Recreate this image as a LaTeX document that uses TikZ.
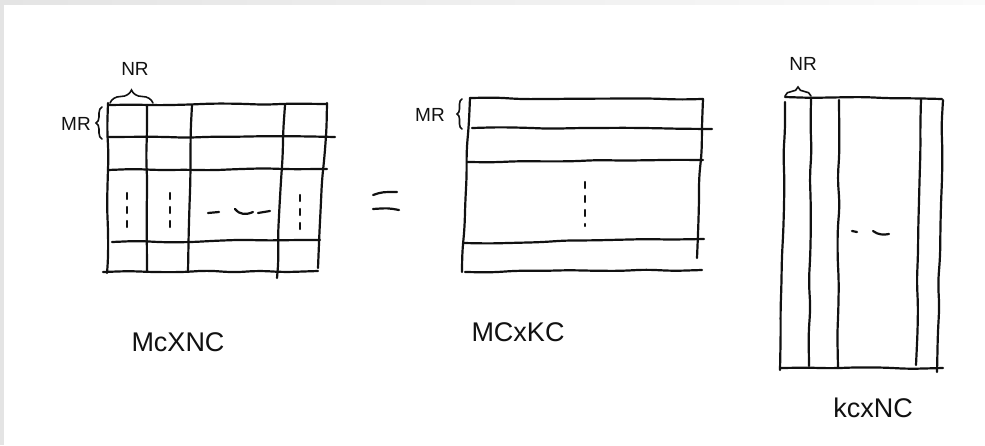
\documentclass[tikz,border=0pt]{standalone}
\usepackage{fontspec}
\setmainfont{Liberation Sans}
\usepackage{xcolor}
\definecolor{cInk}{HTML}{111111}
\definecolor{cEdge}{HTML}{E4E4E4}
\definecolor{cEdgeLight}{HTML}{FAFAFA}
\usepackage{tikz}
\usetikzlibrary{decorations.pathmorphing,decorations.pathreplacing}
\tikzset{
  pen/.style={draw=cInk,line width=2.2pt,line cap=round,rounded corners=9pt,
    decorate,decoration={random steps,segment length=26pt,amplitude=1pt}},
  pen-plain/.style={draw=cInk,line width=2.2pt,line cap=round},
  pen-dots/.style={pen-plain,dash pattern=on 6pt off 8pt},
  pen-brace/.style={draw=cInk,line width=1.6pt,line cap=round,decorate,
    decoration={brace,amplitude=#1}},
  pen-brace/.default=8pt,
  hand-label/.style={font=\fontsize{27}{30}\selectfont,text=cInk,inner sep=0pt},
  brace-label/.style={font=\fontsize{19}{21}\selectfont,text=cInk,inner sep=0pt},
}
\pgfmathsetseed{7}

\begin{document}
\begin{tikzpicture}[x=1pt,y=-1pt]
  \useasboundingbox (0,0) rectangle (985,445);
  \fill[white] (0,0) rectangle (985,445);
  % screen edge
  \shade[left color=cEdge,right color=cEdgeLight] (0,0) rectangle (985,4);
  \fill[cEdge] (0,0) rectangle (4,445);

  % C = MC x NC
  \draw[pen] (108,105) -- (327,104);
  \draw[pen] (108,137) -- (335,137);
  \draw[pen] (108,170) -- (327,169);
  \draw[pen] (112,242) -- (320,240);
  \draw[pen] (103,272) -- (318,271);
  \draw[pen] (108,103) -- (107,273);
  \draw[pen] (147,105) -- (147,272);
  \draw[pen] (192,105) -- (188,272);
  \draw[pen] (285,105) -- (277,278);
  \draw[pen] (327,103) -- (318,268);
  \draw[pen-dots] (127,193) -- (127,230);
  \draw[pen-dots] (170,193) -- (170,230);
  \draw[pen-dots] (300,195) -- (300,230);
  \draw[pen-plain] (208,213) -- (219,212)
    (235,209) .. controls (240,215) and (246,215) .. (253,212)
    (258,213) -- (270,211);
  \draw[pen-brace=13pt] (110,103) -- (153,103);
  \draw[pen-brace=6pt] (102,139) -- (102,107);
  \node[brace-label] (nr-c) at (135,69) {NR};
  \node[brace-label] (mr-c) at (76,124) {MR};
  \node[hand-label] (lbl-c) at (178,342) {McXNC};

  % =
  \draw[pen-plain] (373,195) .. controls (382,192) .. (397,192)
    (373,209) .. controls (388,208) .. (399,210);

  % A = MC x KC
  \draw[pen] (470,98) -- (703,99);
  \draw[pen] (472,128) -- (712,129);
  \draw[pen] (467,162) -- (703,160);
  \draw[pen] (463,243) -- (704,239);
  \draw[pen] (465,272) -- (702,270);
  \draw[pen] (470,98) -- (462,272);
  \draw[pen] (703,99) -- (697,258);
  \draw[pen-dots] (585,182) -- (585,226);
  \draw[pen-brace=5pt] (462,129) -- (462,99);
  \node[brace-label] (mr-a) at (430,115) {MR};
  \node[hand-label] (lbl-a) at (518,332) {MCxKC};

  % B = KC x NC
  \draw[pen] (785,97) -- (942,99);
  \draw[pen] (780,368) -- (943,368);
  \draw[pen] (785,102) -- (780,370);
  \draw[pen] (811,99) -- (809,366);
  \draw[pen] (839,100) -- (838,368);
  \draw[pen] (921,99) -- (916,365);
  \draw[pen] (943,100) -- (937,372);
  \draw[pen-plain] (852,231) -- (857,232)
    (873,231) .. controls (878,235) and (884,235) .. (889,234);
  \draw[pen-brace=9pt] (785,96) -- (811,96);
  \node[brace-label] (nr-b) at (803,64) {NR};
  \node[hand-label] (lbl-b) at (873,408) {kcxNC};
\end{tikzpicture}
\end{document}
